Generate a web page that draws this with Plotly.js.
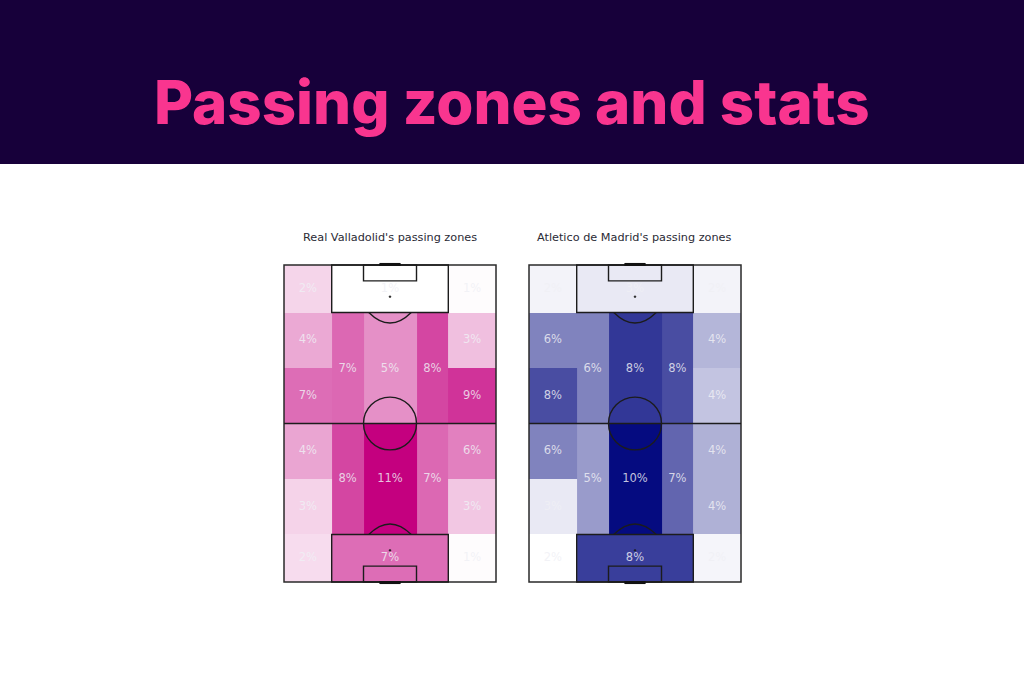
<!DOCTYPE html>
<html><head><meta charset="utf-8">
<script src="https://cdn.plot.ly/plotly-3.0.1.min.js"></script>
<style>html,body{margin:0;padding:0;background:#fff}#c{width:1024px;height:683px}</style></head>
<body><div id="c"></div>
<script>
const xEdges=[0,18,30,50,62,80];
const yEdges=[0,18,39,60,81,102,120];
const realZ=[[1.8,0,0,0,0.15],[3.7,6.5,4.8,8,2.75],[6.3,6.5,4.8,8,8.8],[3.9,8,11,6.5,5.5],[1.9,8,11,6.5,2.4],[1.5,6.3,6.3,6.3,0.15]];
const atmZ=[[0.5,0.9,0.9,0.9,0.5],[5.1,5.1,8.2,7.3,3],[7.3,5.1,8.2,7.3,2.4],[5.1,4.1,10,6.3,3.2],[0.9,4.1,10,6.3,3.2],[0,7.9,7.9,7.9,0.4]];
const labelX=[9,40,71,9,71,9,71,24,40,56,9,71,9,71,24,40,56,9,40,71];
const labelY=[9,9,9,28.5,28.5,49.5,49.5,39.5,39.5,39.5,70.5,70.5,91.5,91.5,81,81,81,111,111,111];
const realLabels=["2%","1%","1%","4%","3%","7%","9%","7%","5%","8%","4%","6%","3%","3%","8%","11%","7%","2%","7%","1%"];
const atmLabels=["2%","3%","2%","6%","4%","8%","4%","6%","8%","8%","6%","4%","3%","4%","5%","10%","7%","2%","8%","2%"];
const realTitle="Real Valladolid's passing zones";
const atmTitle="Atletico de Madrid's passing zones";
const heading="Passing zones and stats";

function heat(z,color,n,zmax){return {type:'heatmap',x:xEdges,y:yEdges,z:z,xaxis:'x'+n,yaxis:'y'+n,zmin:0,zmax:zmax,
  colorscale:[[0,'#ffffff'],[1,color]],showscale:false,hoverinfo:'skip'};}
function labels(t,n){return {type:'scatter',mode:'text',x:labelX,y:labelY,text:t,xaxis:'x'+n,yaxis:'y'+n,
  textfont:{family:'DejaVu Sans',size:11.5,color:'rgba(240,240,245,0.82)'},hoverinfo:'skip',cliponaxis:false};}
function pitch(n){
  const r={xref:'x'+n,yref:'y'+n,line:{color:'#1c1c1c',width:1.4},layer:'above'};
  const rect=(a,b,c,d,o={})=>Object.assign({},r,{type:'rect',x0:a,x1:b,y0:c,y1:d},o);
  const circ=(cx,cy,rad,o={})=>Object.assign({},r,{type:'circle',x0:cx-rad,x1:cx+rad,y0:cy-rad,y1:cy+rad},o);
  const path=(p)=>Object.assign({},r,{type:'path',path:p});
  const spot={fillcolor:'#1c1c1c',line:{color:'#1c1c1c',width:0.5}};
  return [
    rect(0,80,0,120,{line:{color:'#2a2a2a',width:1.5}}),
    Object.assign({},r,{type:'line',x0:0,x1:80,y0:60,y1:60}),
    circ(40,60,10),
    rect(18,62,0,18),rect(18,62,102,120),
    rect(30,50,0,6),rect(30,50,114,120),
    path('M 32 18 Q 40 26 48 18'),path('M 32 102 Q 40 94 48 102'),
    circ(40,12,0.35,spot),circ(40,108,0.35,spot),
    Object.assign({},r,{type:'line',x0:36,x1:44,y0:-0.2,y1:-0.2,line:{color:'#111',width:3}}),
    Object.assign({},r,{type:'line',x0:36,x1:44,y0:120.2,y1:120.2,line:{color:'#111',width:3}})
  ];
}
const pad=1.5, k=212/80;
const ax=(l)=>({domain:[(l-pad*k)/1024,(l+212+pad*k)/1024],range:[-pad,80+pad],showgrid:false,zeroline:false,showticklabels:false,ticks:'',fixedrange:true});
const ay=()=>({domain:[1-(582+pad*k)/683,1-(265-pad*k)/683],range:[120+pad,-pad],showgrid:false,zeroline:false,showticklabels:false,ticks:'',fixedrange:true});
const txt=(t,x,y,size,color,fam,w)=>({text:t,xref:'paper',yref:'paper',x:x/1024,y:1-y/683,showarrow:false,xanchor:'center',yanchor:'middle',
  font:{family:fam,size:size,color:color,weight:w}});
const layout={width:1024,height:683,margin:{l:0,r:0,t:0,b:0},paper_bgcolor:'#fff',plot_bgcolor:'rgba(0,0,0,0)',showlegend:false,
  xaxis1:ax(284),yaxis1:ay(),xaxis2:ax(529),yaxis2:ay(),
  shapes:[{type:'rect',xref:'paper',yref:'paper',x0:0,x1:1,y0:1-164/683,y1:1,fillcolor:'#17003a',line:{width:0},layer:'below'}]
    .concat(pitch(1),pitch(2)),
  annotations:[txt(heading,512,102,60,'#f9358f','Inter',800),
    txt(realTitle,390,237,11.25,'#2a2a35','DejaVu Sans',400),
    txt(atmTitle,634,237,11.25,'#2a2a35','DejaVu Sans',400)]};
Plotly.newPlot('c',[heat(realZ,'#C4007F',1,11),heat(atmZ,'#050B80',2,10),labels(realLabels,1),labels(atmLabels,2)],layout,{displayModeBar:false,staticPlot:true});
</script></body></html>
